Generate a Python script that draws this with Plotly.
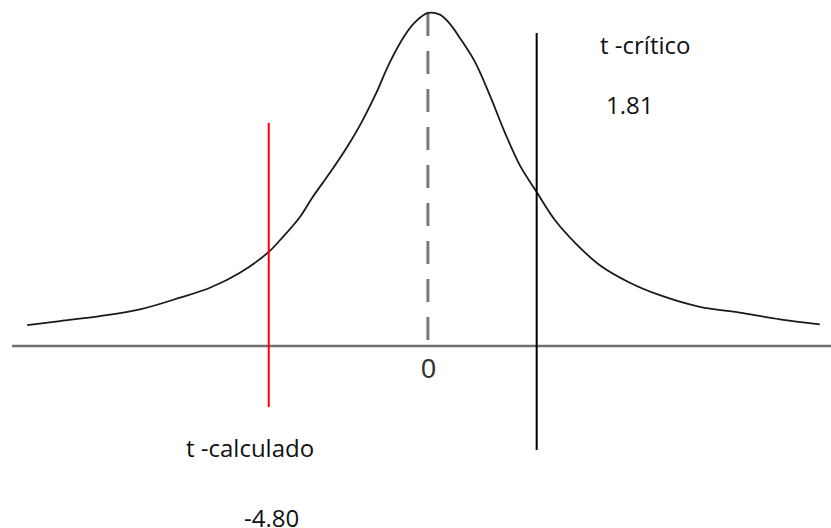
import plotly.graph_objects as go

# Bell-shaped curve of the t distribution (schematic), t units vs. density
curve_t = [-5.01, -4.6, -4.1, -3.6, -3.1, -2.725, -2.35, -1.99, -1.85, -1.6, -1.44,
           -1.225, -1.01, -0.85, -0.66, -0.475, -0.29, -0.16, 0.0, 0.15, 0.275, 0.4,
           0.59, 0.775, 0.96, 1.15, 1.36, 1.59, 1.84, 2.15, 2.525, 2.9, 3.4, 3.9, 4.4, 4.9]
curve_d = [0.025, 0.030, 0.036, 0.044, 0.058, 0.070, 0.088, 0.113, 0.127, 0.155, 0.179,
           0.208, 0.239, 0.265, 0.301, 0.341, 0.373, 0.389, 0.400, 0.398, 0.387, 0.370,
           0.341, 0.301, 0.257, 0.217, 0.185, 0.151, 0.124, 0.097, 0.076, 0.061, 0.047,
           0.040, 0.032, 0.026]

# Reported statistics
t_calculado = -4.80
t_critico = 1.81

# Where the two reference lines sit on the (not to scale) sketch
pos_calculado = -1.99
pos_critico = 1.36
span_calculado = [0.268, -0.0733]
span_critico = [0.376, -0.125]
peak = 0.400

x_range = [-5.35, 5.04]
y_range = [-0.2186, 0.4156]

fig = go.Figure()

# horizontal axis line
fig.add_trace(go.Scatter(x=[-5.2, x_range[1]], y=[0, 0], mode="lines",
                         line=dict(color="#707070", width=2.5), hoverinfo="skip"))
# dashed centre line at t = 0
fig.add_trace(go.Scatter(x=[0, 0], y=[peak, 0], mode="lines",
                         line=dict(color="#7a7a7a", width=3, dash="23px,15px"),
                         hoverinfo="skip"))
# density curve
fig.add_trace(go.Scatter(x=curve_t, y=curve_d, mode="lines", line_shape="spline",
                         line=dict(color="#1a1a1a", width=1.8), hoverinfo="skip"))
# t calculado (red) and t crítico (black)
fig.add_trace(go.Scatter(x=[pos_calculado, pos_calculado], y=span_calculado, mode="lines",
                         line=dict(color="#ff0000", width=2), hoverinfo="skip"))
fig.add_trace(go.Scatter(x=[pos_critico, pos_critico], y=span_critico, mode="lines",
                         line=dict(color="#000000", width=2), hoverinfo="skip"))

txt_font = dict(family="Open Sans", size=24, color="#111111")
annotations = [
    dict(x=2.71, y=0.3616, text="t -crítico", font=txt_font),
    dict(x=2.525, y=0.2895, text=f"{t_critico:.2f}", font=txt_font),
    dict(x=-2.225, y=-0.1225, text="t -calculado", font=txt_font),
    dict(x=-1.95, y=-0.2054, text=f"{t_calculado:.2f}", font=txt_font),
    dict(x=0.0125, y=-0.0276, text="0",
         font=dict(family="Liberation Sans", size=27, color="#333333")),
]
for a in annotations:
    a.update(showarrow=False, xanchor="center", yanchor="middle", xref="x", yref="y")

fig.update_layout(
    width=831, height=528,
    margin=dict(l=0, r=0, t=0, b=0),
    paper_bgcolor="white", plot_bgcolor="white",
    showlegend=False,
    annotations=annotations,
    xaxis=dict(range=x_range, visible=False, fixedrange=True),
    yaxis=dict(range=y_range, visible=False, fixedrange=True),
)

fig.write_html("out.html")
